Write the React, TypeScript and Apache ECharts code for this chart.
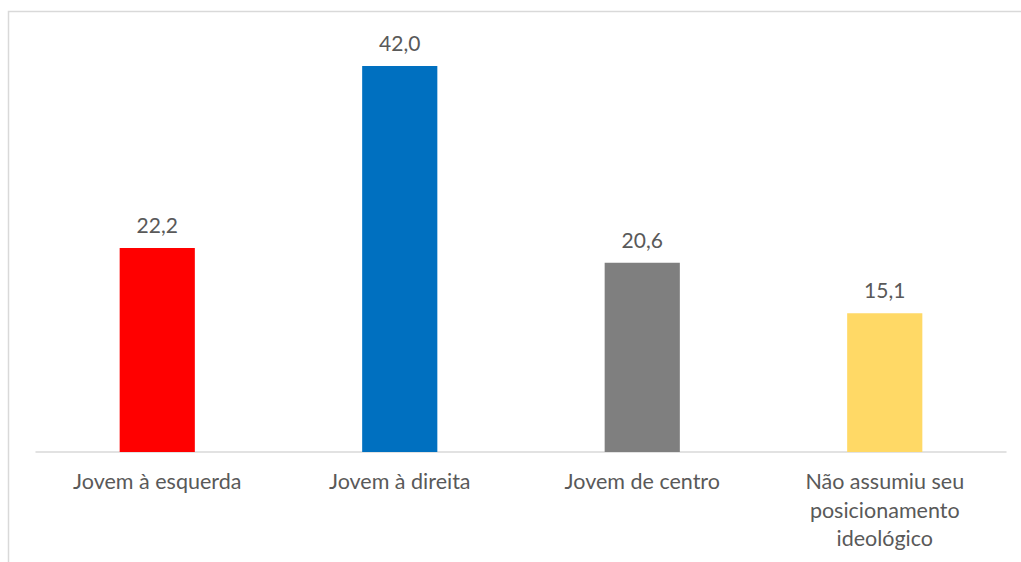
import React, { useEffect, useRef } from "react";
import * as echarts from "echarts";

const categories = [
  "Jovem à esquerda",
  "Jovem à direita",
  "Jovem de centro",
  "Não assumiu seu\nposicionamento\nideológico",
];
const values = [22.2, 42.0, 20.6, 15.1];
const barColors = ["#ff0000", "#0070c0", "#7f7f7f", "#ffd966"];

export default function App() {
  const ref = useRef<HTMLDivElement>(null);
  useEffect(() => {
    if (!ref.current) return;
    const chart = echarts.init(ref.current, null, { renderer: "svg" });
    chart.setOption({
      animation: false,
      backgroundColor: "#ffffff",
      graphic: [
        {
          type: "rect",
          shape: { x: 8.5, y: 11.5, width: 1100, height: 700 },
          style: { fill: "none", stroke: "#d9d9d9", lineWidth: 1.5 },
          silent: true,
        },
      ],
      grid: { left: 36, right: 15, top: 38.4, bottom: 110, containLabel: false },
      xAxis: {
        type: "category",
        data: categories,
        axisLine: { lineStyle: { color: "#d9d9d9", width: 1.5 } },
        axisTick: { show: false },
        axisLabel: {
          interval: 0,
          color: "#595959",
          fontFamily: "Lato",
          fontSize: 21.5,
          lineHeight: 28.5,
          margin: 15,
        },
      },
      yAxis: {
        type: "value",
        min: 0,
        max: 45,
        show: false,
        splitLine: { show: false },
      },
      series: [
        {
          type: "bar",
          barWidth: "31%",
          data: values.map((v, i) => ({ value: v, itemStyle: { color: barColors[i] } })),
          label: {
            show: true,
            position: "top",
            distance: 13,
            color: "#595959",
            fontFamily: "Lato",
            fontSize: 21,
            formatter: (p: any) => p.value.toFixed(1).replace(".", ","),
          },
        },
      ],
    });
    return () => chart.dispose();
  }, []);
  return (
    <div
      ref={ref}
      style={{ position: "fixed", left: 0, top: 0, width: 1021, height: 562 }}
    />
  );
}
